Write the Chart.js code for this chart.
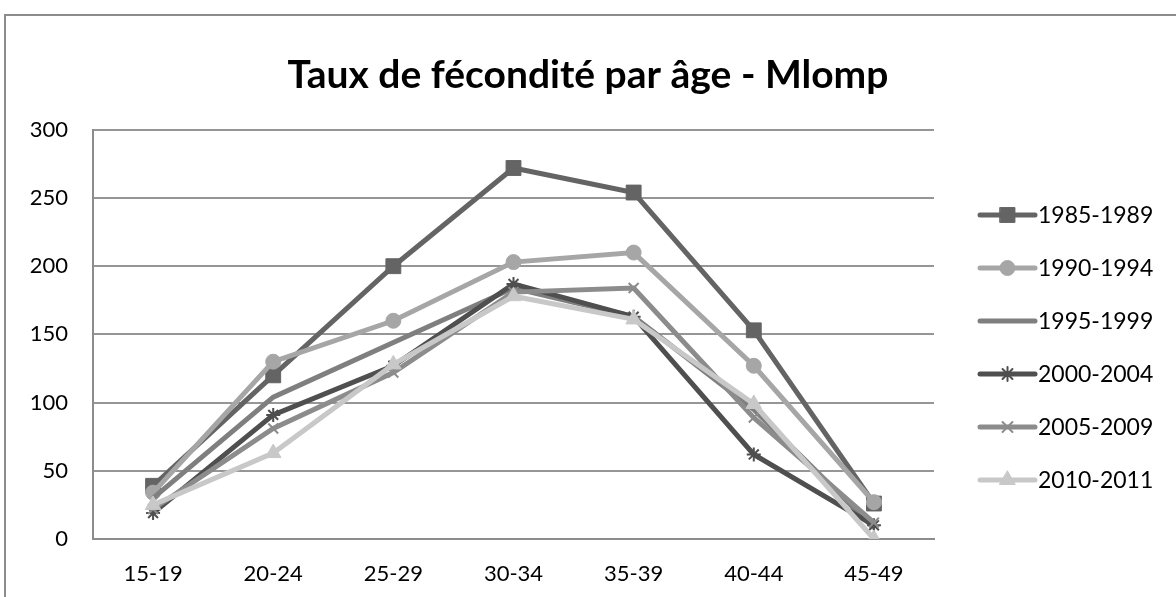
<!DOCTYPE html>
<html>
<head>
<meta charset="utf-8">
<script src="https://cdn.jsdelivr.net/npm/chart.js@4"></script>
<style>
  html, body { margin: 0; padding: 0; background: #fff; overflow: hidden; }
  #wrap { position: relative; width: 1176px; height: 597px; }
  #frame { position: absolute; left: 4px; top: 14px; width: 1200px; height: 620px;
           border: 2px solid #8c8c8c; box-sizing: border-box; pointer-events: none; }
  canvas { position: absolute; left: 0; top: 0; }
</style>
</head>
<body>
<div id="wrap">
  <div id="frame"></div>
  <canvas id="chart" width="1176" height="597"></canvas>
</div>
<script>
// tranches d'age et taux (pour 1000 femmes)
const ageGroups = ['15-19', '20-24', '25-29', '30-34', '35-39', '40-44', '45-49'];
const periods = ['1985-1989', '1990-1994', '1995-1999', '2000-2004', '2005-2009', '2010-2011'];
const rates1985 = [39, 120, 200, 272, 254, 153, 26];
const rates1990 = [34, 130, 160, 203, 210, 127, 27];
const rates1995 = [30, 104, 144, 184, 163, 95, 8];
const rates2000 = [19, 91, 127, 187, 163, 62, 10];
const rates2005 = [22, 81, 122, 181, 184, 89, 12];
const rates2010 = [25, 63, 128, 178, 161, 99, 0];
const yTicks = [0, 50, 100, 150, 200, 250, 300];

const FONT = 'Lato, "Open Sans", sans-serif';

// styles of each serie (gray scale like the excel original)
const styles = [
  { color: '#646464', point: 'rect', r: 10.5 },
  { color: '#a6a6a6', point: 'circle', r: 7.5 },
  { color: '#7f7f7f', point: false, r: 0 },
  { color: '#4f4f4f', point: 'star', r: 7 },
  { color: '#8c8c8c', point: 'crossRot', r: 7 },
  { color: '#c8c8c8', point: 'triangle', r: 9 }
];
const series = [rates1985, rates1990, rates1995, rates2000, rates2005, rates2010];

const datasets = series.map((vals, i) => ({
  label: periods[i],
  data: vals,
  borderColor: styles[i].color,
  backgroundColor: styles[i].color,
  borderWidth: 5,
  pointStyle: styles[i].point,
  pointRadius: styles[i].r,
  pointBorderWidth: (styles[i].point === 'star' || styles[i].point === 'crossRot') ? 2 : 1,
  pointBorderColor: styles[i].color,
  pointBackgroundColor: styles[i].color,
  tension: 0,
  order: series.length - i   // last serie on top, like excel
}));

// legend drawn on the right, line + marker
const sideLegend = {
  id: 'sideLegend',
  afterDraw(chart) {
    const ctx = chart.ctx;
    const x0 = 980, x1 = 1035, top = 215, step = 53;
    chart.data.datasets.forEach((ds, i) => {
      const y = top + i * step;
      ctx.save();
      ctx.strokeStyle = ds.borderColor;
      ctx.lineWidth = 5;
      ctx.lineCap = 'round';
      ctx.beginPath();
      ctx.moveTo(x0, y);
      ctx.lineTo(x1, y);
      ctx.stroke();
      if (ds.pointStyle) {
        ctx.fillStyle = ds.pointBackgroundColor;
        ctx.strokeStyle = ds.pointBorderColor;
        ctx.lineWidth = ds.pointBorderWidth;
        Chart.helpers.drawPoint(ctx, { pointStyle: ds.pointStyle, radius: ds.pointRadius, borderWidth: ds.pointBorderWidth }, (x0 + x1) / 2, y);
      }
      ctx.fillStyle = '#000';
      ctx.font = '23px ' + FONT;
      ctx.textAlign = 'left';
      ctx.textBaseline = 'middle';
      ctx.fillText(ds.label, 1038, y + 1);
      ctx.restore();
    });
  }
};

new Chart(document.getElementById('chart'), {
  type: 'line',
  data: { labels: ageGroups, datasets: datasets },
  options: {
    responsive: false,
    animation: false,
    layout: { padding: 0 },
    plugins: {
      legend: { display: false },
      tooltip: { enabled: false },
      title: {
        display: true,
        text: 'Taux de fécondité par âge - Mlomp',
        color: '#000',
        font: { family: FONT, size: 39, weight: 'bold' },
        padding: { top: 52, bottom: 31 }
      }
    },
    scales: {
      x: {
        offset: true,
        grid: { display: false, drawTicks: false },
        border: { display: true, color: '#8c8c8c', width: 2 },
        ticks: { color: '#000', font: { family: FONT, size: 22 }, padding: 22 },
        afterFit(scale) { scale.height = 58; }
      },
      y: {
        min: 0,
        max: 300,
        afterBuildTicks(scale) { scale.ticks = yTicks.map(v => ({ value: v })); },
        grid: { color: '#969696', lineWidth: 2, drawTicks: false },
        border: { display: true, color: '#8c8c8c', width: 2 },
        ticks: { color: '#000', font: { family: FONT, size: 22 }, padding: 25 },
        afterFit(scale) { scale.width = 93; }
      },
      // empty axis on the right keeps room for the legend
      side: {
        position: 'right',
        grid: { display: false, drawTicks: false },
        border: { display: false },
        ticks: { display: false },
        afterFit(scale) { scale.width = 242; }
      }
    }
  },
  plugins: [sideLegend]
});
</script>
</body>
</html>
